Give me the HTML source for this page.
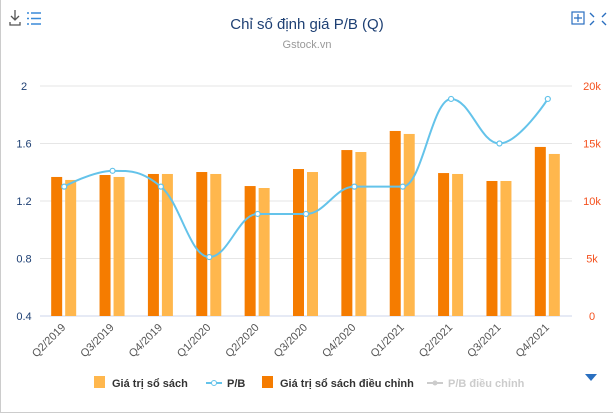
<!DOCTYPE html>
<html><head><meta charset="utf-8"><style>
body{margin:0;background:#fff;}
#wrap{position:relative;width:612px;height:412px;border:1px solid #ccc;border-top:none;border-right:none;overflow:hidden;font-family:"Liberation Sans",sans-serif;}
</style></head><body>
<div id="wrap">
<svg id="svg" width="614" height="414" style="position:absolute;left:-1px;top:0">
<g stroke="#555" fill="none" stroke-width="1.3"><path d="M15 10v10M11 16l4 4 4-4M10 22v3h10v-3"/></g>
<g stroke="#3a8ad8" stroke-width="1.5"><path d="M27 13h2M31 13h10M27 18.5h2M31 18.5h10M27 24h2M31 24h10"/></g>
<g stroke="#2a6fc0" fill="none" stroke-width="1.2"><rect x="572" y="12" width="12" height="12"/><path d="M578 14v8M574 18h8"/></g>
<g stroke="#2a6fc0" stroke-width="1.4" fill="none"><path d="M590 13l4 4M606 13l-4 4M590 25l4-4M606 25l-4-4"/></g>
<text x="307" y="29" text-anchor="middle" font-size="15" fill="#1d3f73">Chỉ số định giá P/B (Q)</text>
<text x="307" y="48" text-anchor="middle" font-size="11" fill="#999">Gstock.vn</text>
<g id="grid"></g><g id="bars"></g><g id="line"></g><g id="labels"></g>
<g font-size="11" font-weight="bold">
<g><rect x="94" y="376" width="11" height="12" fill="#ffb74d"/><text x="112" y="387" fill="#333">Giá trị sổ sách</text></g>
<g><line x1="206" y1="383" x2="222" y2="383" stroke="#64c3ea" stroke-width="2"/><circle cx="214" cy="383" r="2.5" fill="#fff" stroke="#64c3ea"/><text x="227" y="387" fill="#333">P/B</text></g>
<g><rect x="262" y="376" width="11" height="12" fill="#f57c00"/><text x="280" y="387" fill="#333">Giá trị sổ sách điều chỉnh</text></g>
<g><line x1="427" y1="383" x2="443" y2="383" stroke="#ccc" stroke-width="2"/><circle cx="435" cy="383" r="2.5" fill="#ccc"/><text x="448" y="387" fill="#ccc">P/B điều chỉnh</text></g>
</g>
<path d="M585 374h12l-6 7z" fill="#2a6fc0"/>
</svg></div>
<script>
const categories=["Q2/2019","Q3/2019","Q4/2019","Q1/2020","Q2/2020","Q3/2020","Q4/2020","Q1/2021","Q2/2021","Q3/2021","Q4/2021"];
const bookValue=[11830,12090,12350,12350,11130,12520,14260,15830,12350,11740,14090];
const adjBookValue=[12090,12260,12350,12520,11300,12780,14430,16090,12430,11740,14700];
const pb=[1.30,1.41,1.30,0.81,1.11,1.11,1.30,1.30,1.91,1.60,1.91];
const leftTicks=["0.4","0.8","1.2","1.6","2"];
const leftTickVals=[0.4,0.8,1.2,1.6,2];
const rightTicks=["0","5k","10k","15k","20k"];
const rightTickVals=[0,5000,10000,15000,20000];
const NS="http://www.w3.org/2000/svg";
const X0=40,X1=572,Y0=316,Y1=86;
const bw=(X1-X0)/categories.length;
const xc=i=>X0+bw*(i+0.5);
const yL=v=>Y0-(v-0.4)/1.6*(Y0-Y1);
const yR=v=>Y0-v/20000*(Y0-Y1);
function mk(t,a,p){const e=document.createElementNS(NS,t);for(const k in a)e.setAttribute(k,a[k]);p.appendChild(e);return e;}
const grid=document.getElementById('grid');
leftTickVals.forEach((v,i)=>{
 const l=mk('line',{x1:X0,x2:X1,y1:yL(v),y2:yL(v),stroke:i==0?'#ccd6eb':'#e6e6e6'},grid);
 
 
 const t=mk('text',{x:24,y:yL(v)+4,'text-anchor':'middle','font-size':11,fill:'#1d3f73'},grid);t.textContent=leftTicks[i];
 
 
});
rightTickVals.forEach((v,i)=>{
 const t=mk('text',{x:592,y:yR(v)+4,'text-anchor':'middle','font-size':11,fill:'#f4511e'},grid);t.textContent=rightTicks[i];
 
 
});
const bars=document.getElementById('bars'),labels=document.getElementById('labels');
categories.forEach((c,i)=>{
 const cx=xc(i);
 const r1=mk('rect',{x:cx-13,y:yR(adjBookValue[i]),width:11,height:Y0-yR(adjBookValue[i]),fill:'#f57c00'},bars);
 
 
 const r2=mk('rect',{x:cx+1,y:yR(bookValue[i]),width:11,height:Y0-yR(bookValue[i]),fill:'#ffb74d'},bars);
 
 
 const t=mk('text',{x:cx+2,y:Y0+12,'text-anchor':'end','font-size':11,fill:'#555',transform:`rotate(-45 ${cx+2} ${Y0+12})`},labels);
 t.textContent=c;
 
 
});
const pts=pb.map((v,i)=>[xc(i),yL(v)]);
// Highcharts-style spline control points
const sm=1.5,den=sm+1;
const ctrl=pts.map((p,i)=>{
 if(i==0||i==pts.length-1)return null;
 const a=pts[i-1],b=pts[i+1];
 let lx=(sm*p[0]+a[0])/den,ly=(sm*p[1]+a[1])/den,rx=(sm*p[0]+b[0])/den,ry=(sm*p[1]+b[1])/den;
 const corr=((ry-ly)*(rx-p[0]))/(rx-lx)+p[1]-ry;
 ly+=corr;ry+=corr;
 if(ly>a[1]&&ly>p[1]){ly=Math.max(a[1],p[1]);ry=2*p[1]-ly;}
 else if(ly<a[1]&&ly<p[1]){ly=Math.min(a[1],p[1]);ry=2*p[1]-ly;}
 if(ry>b[1]&&ry>p[1]){ry=Math.max(b[1],p[1]);ly=2*p[1]-ry;}
 else if(ry<b[1]&&ry<p[1]){ry=Math.min(b[1],p[1]);ly=2*p[1]-ry;}
 return {lx,ly,rx,ry};
});
let d=`M${pts[0][0]} ${pts[0][1]}`;
for(let i=1;i<pts.length;i++){
 const pc=ctrl[i-1],cc=ctrl[i];
 const c1=pc?[pc.rx,pc.ry]:pts[i-1];
 const c2=cc?[cc.lx,cc.ly]:pts[i];
 d+=` C${c1[0]} ${c1[1]} ${c2[0]} ${c2[1]} ${pts[i][0]} ${pts[i][1]}`;
}
const lineG=document.getElementById('line');
const path=mk('path',{d:d,fill:'none',stroke:'#64c3ea','stroke-width':2},lineG);


pts.forEach((p,i)=>{
 const c=mk('circle',{cx:p[0],cy:p[1],r:2.5,fill:'#fff',stroke:'#64c3ea','stroke-width':1.2},lineG);
 
 
});
</script>
</body></html>
